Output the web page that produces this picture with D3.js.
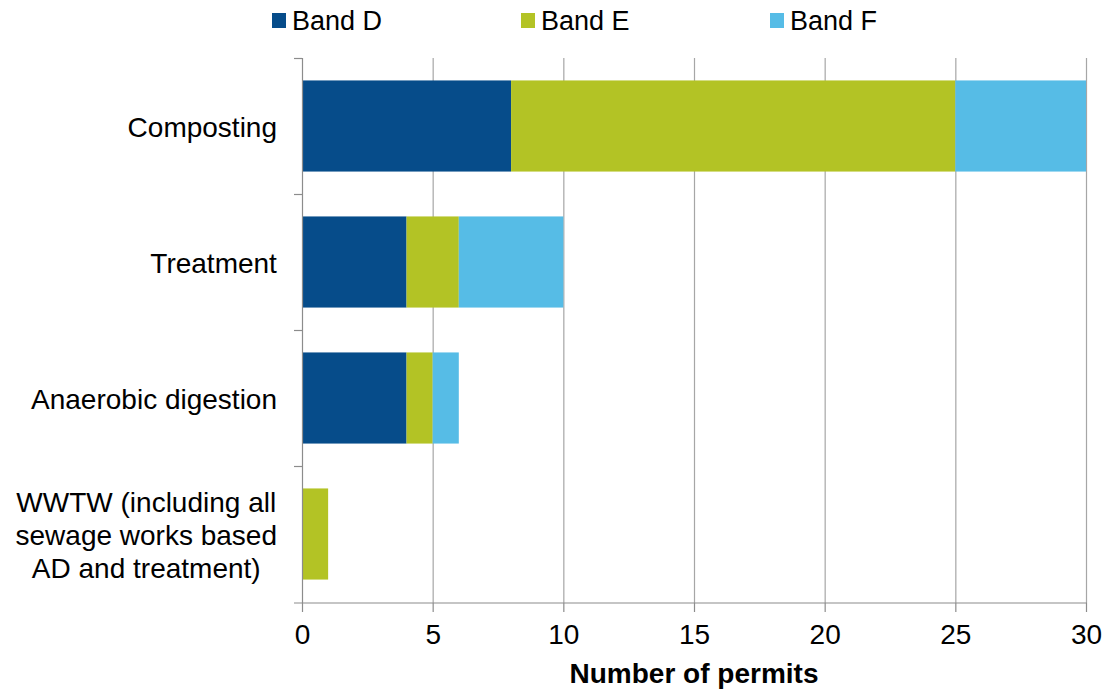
<!DOCTYPE html>
<html>
<head>
<meta charset="utf-8">
<script src="https://cdn.jsdelivr.net/npm/d3@7"></script>
<style>
	body { margin: 0; background: #fff; }
	text { font-family: "Liberation Sans", Arial, sans-serif; fill: #000; }
</style>
</head>
<body>
<svg id="chart" width="1111" height="694"></svg>
<script>
'use strict'

// data
const categories = ["Composting", "Treatment", "Anaerobic digestion", "WWTW (including all sewage works based AD and treatment)"]
const categoryLines = [["Composting"], ["Treatment"], ["Anaerobic digestion"], ["WWTW (including all", "sewage works based", "AD and treatment)"]]
const bands = ["Band D", "Band E", "Band F"]
const bandD = [8, 4, 4, 0]
const bandE = [17, 2, 1, 1]
const bandF = [5, 4, 1, 0]
const xTicks = [0, 5, 10, 15, 20, 25, 30]
const colours = ["#064c8a", "#b3c325", "#56bce6"]

const svg = d3.select("#chart")
const plotLeft = 302, plotRight = 1086, plotTop = 58, plotBottom = 602

let rows = categories.map(function(c, i){
	return {cat: c, "Band D": bandD[i], "Band E": bandE[i], "Band F": bandF[i]}
})
let stacked = d3.stack().keys(bands)(rows)

let x = d3.scaleLinear().domain([0, 30]).range([plotLeft, plotRight])
let y = d3.scaleBand().domain(categories).range([plotTop, plotBottom]).paddingInner(0.33).paddingOuter(0.165)

// grid
svg.append("g").selectAll("line").data(xTicks.slice(1)).join("line")
	.attr("x1", d => x(d) + 0.5).attr("x2", d => x(d) + 0.5)
	.attr("y1", plotTop).attr("y2", plotBottom + 1)
	.attr("stroke", "#a6a6a6").attr("stroke-width", 1.2)

// bars
svg.append("g").selectAll("g").data(stacked).join("g")
	.attr("fill", (d, i) => colours[i])
	.selectAll("rect").data(d => d).join("rect")
	.attr("x", d => x(d[0]))
	.attr("width", d => x(d[1]) - x(d[0]))
	.attr("y", d => y(d.data.cat))
	.attr("height", y.bandwidth())

// x axis
let xAxis = svg.append("g")
	.attr("transform", "translate(0," + (plotBottom + 1) + ")")
	.call(d3.axisBottom(x).tickValues(xTicks).tickSize(9).tickPadding(12).tickSizeOuter(0))
xAxis.select(".domain").remove()
xAxis.append("line").attr("x1", 294).attr("x2", plotRight + 1).attr("stroke", "#8c8c8c").attr("stroke-width", 1.2)
xAxis.selectAll(".tick line").attr("stroke", "#8c8c8c").attr("stroke-width", 1.2)
xAxis.selectAll(".tick text").attr("font-size", 28).attr("font-family", "Liberation Sans, Arial, sans-serif").attr("fill", "#000")

// y axis line and ticks at band boundaries
svg.append("line").attr("x1", plotLeft + 0.5).attr("x2", plotLeft + 0.5).attr("y1", plotTop).attr("y2", plotBottom + 1)
	.attr("stroke", "#8c8c8c").attr("stroke-width", 1.2)
svg.append("g").selectAll("line").data(d3.range(categories.length)).join("line")
	.attr("x1", 294).attr("x2", plotLeft)
	.attr("y1", i => plotTop + i * y.step() + 0.5).attr("y2", i => plotTop + i * y.step() + 0.5)
	.attr("stroke", "#8c8c8c").attr("stroke-width", 1.2)

// category labels (multi-line ones centred, block right-aligned)
categoryLines.forEach(function(lines, i){
	let cy = y(categories[i]) + y.bandwidth() / 2
	let lh = 33
	let t = svg.append("text").attr("font-size", 28).attr("text-anchor", "middle")
	lines.forEach(function(l, j){
		t.append("tspan").attr("x", 0).attr("y", cy + (j - (lines.length - 1) / 2) * lh + 11).text(l)
	})
	let w = t.node().getBBox().width
	t.selectAll("tspan").attr("x", 277 - w / 2)
})

// axis title
svg.append("text").attr("x", (plotLeft + plotRight) / 2).attr("y", 683)
	.attr("text-anchor", "middle").attr("font-size", 28).attr("font-weight", "bold")
	.text("Number of permits")

// legend
let legend = svg.append("g").selectAll("g").data(bands).join("g")
	.attr("transform", (d, i) => "translate(" + (272 + i * 249) + ",0)")
legend.append("rect").attr("x", 0).attr("y", 13).attr("width", 14).attr("height", 15)
	.attr("fill", (d, i) => colours[i])
legend.append("text").attr("x", 20).attr("y", 30).attr("font-size", 27).text(d => d)
</script>
</body>
</html>
